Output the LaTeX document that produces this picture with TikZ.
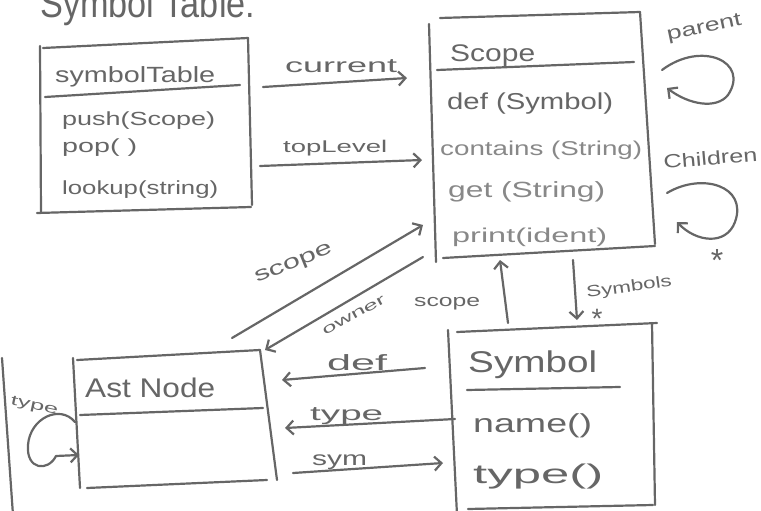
\documentclass[tikz,border=0pt]{standalone}
\usepackage{fontspec}
\setmainfont{Liberation Sans}
\usetikzlibrary{arrows.meta}
\definecolor{ink}{HTML}{666666}
\definecolor{inklight}{HTML}{888888}
% font size shortcut and horizontal fit of a label to a given width
\newcommand{\fs}[1]{\fontsize{#1}{#1}\selectfont}
\newcommand{\hw}[2]{\resizebox{#1}{\height}{#2}}
\tikzset{
  pen/.style={draw=ink, line width=2.2pt, line cap=round, line join=round},
  arr/.style={pen, -{Straight Barb[length=7pt,width=14pt]}},
  lbl/.style={inner sep=0pt, anchor=base west, text=ink},
  lbllight/.style={lbl, text=inklight},
  star/.style={inner sep=0pt, anchor=base, text=ink, font=\fs{32}},
}
\begin{document}
\begin{tikzpicture}[x=1pt,y=-1pt]
\useasboundingbox (0,0) rectangle (761,511);
\clip (0,0) rectangle (761,511);

% ---- heading along the top edge (runs off the sheet)
\node[lbl, font=\fs{40}] (title) at (40,18) {\hw{215pt}{Symbol Table:}};

% ---- class SymbolTable
\draw[pen] (43,48) -- (248,38);
\draw[pen] (40,46) -- (41,213);
\draw[pen] (248,38) -- (252,205);
\draw[pen] (37,213) -- (251,207);
\draw[pen] (45,97) -- (240,85);
\node[lbl, font=\fs{22}] (st-name) at (55,82) {\hw{160pt}{symbolTable}};
\node[lbl, font=\fs{19}] (st-push) at (62,125) {\hw{153pt}{push(Scope)}};
\node[lbl, font=\fs{19}] (st-pop) at (62,153) {\hw{75pt}{pop( )}};
\node[lbl, font=\fs{19}] (st-look) at (62,194) {\hw{156pt}{lookup(string)}};

% ---- class Scope
\draw[pen] (440,18) -- (640,12);
\draw[pen] (429,24) -- (436,262);
\draw[pen] (640,12) -- (655,244);
\draw[pen] (443,258) -- (655,246);
\draw[pen] (437,70) -- (634,62);
\node[lbl, font=\fs{24}] (sc-name) at (450,62) {\hw{85pt}{Scope}};
\node[lbl, font=\fs{23}] (sc-def) at (447,110) {\hw{166pt}{def (Symbol)}};
\node[lbllight, font=\fs{20}] (sc-cont) at (440,155) {\hw{202pt}{contains (String)}};
\node[lbllight, font=\fs{22}] (sc-get) at (448,197) {\hw{157pt}{get (String)}};
\node[lbllight, font=\fs{20}] (sc-print) at (452,242) {\hw{155pt}{print(ident)}};

% ---- class Symbol
\draw[pen] (457,332) -- (657,323);
\draw[pen] (448,330) -- (457,515);
\draw[pen] (652,323) -- (655,505);
\draw[pen] (468,509) -- (653,505);
\draw[pen] (467,390) -- (620,387);
\node[lbl, font=\fs{30}] (sy-name) at (468,372) {\hw{129pt}{Symbol}};
\node[lbl, font=\fs{26}] (sy-nm) at (473,432) {\hw{119pt}{name()}};
\node[lbl, font=\fs{27}] (sy-ty) at (473,483) {\hw{130pt}{type()}};

% ---- class AstNode
\draw[pen] (77,360) -- (260,350);
\draw[pen] (73,358) -- (80,488);
\draw[pen] (260,350) -- (277,480);
\draw[pen] (87,488) -- (267,480);
\draw[pen] (80,415) -- (263,408);
\node[lbl, font=\fs{27}] (an-name) at (85,397) {\hw{130pt}{Ast Node}};

% ---- edge of a further box on the left
\draw[pen] (2,358) -- (13,515);

% ---- associations SymbolTable -> Scope
\coordinate (cur-s) at (263,87);  \coordinate (cur-e) at (407,78);
\coordinate (top-s) at (260,166); \coordinate (top-e) at (422,160);
\draw[arr] (cur-s) -- (cur-e);
\draw[arr] (top-s) -- (top-e);
\node[lbl, font=\fs{20}] (l-cur) at (285,73) {\hw{112pt}{current}};
\node[lbl, font=\fs{17}] (l-top) at (283,152) {\hw{104pt}{topLevel}};

% ---- Scope self associations
\coordinate (par-s) at (662,70);  \coordinate (par-e) at (667,88);
\draw[arr] (par-s) .. controls (702,40) and (750,62) .. (728,95)
               .. controls (716,110) and (688,104) .. (par-e);
\node[lbl, font=\fs{19}, rotate=12] (l-par) at (668,41) {\hw{76pt}{parent}};
\coordinate (ch-s) at (667,193);  \coordinate (ch-e) at (677,222);
\draw[arr] (ch-s) .. controls (702,172) and (748,186) .. (735,222)
               .. controls (726,246) and (696,242) .. (ch-e);
\node[lbl, font=\fs{19}, rotate=5] (l-ch) at (664,169) {\hw{94pt}{Children}};
\node[star] (ch-mul) at (717,271) {*};

% ---- AstNode <-> Scope
\coordinate (asc-s) at (232,338); \coordinate (asc-e) at (423,225);
\draw[arr] (asc-s) -- (asc-e);
\node[lbl, font=\fs{20}, rotate=22] (l-asc) at (257,283) {\hw{82pt}{scope}};
\coordinate (own-s) at (423,257); \coordinate (own-e) at (265,350);
\draw[arr] (own-s) -- (own-e);
\node[lbl, font=\fs{14}, rotate=29] (l-own) at (325,336) {\hw{70pt}{owner}};

% ---- Symbol <-> Scope
\coordinate (sco-s) at (508,323); \coordinate (sco-e) at (500,260);
\draw[arr] (sco-s) -- (sco-e);
\node[lbl, font=\fs{17}] (l-sco) at (414,306) {\hw{66pt}{scope}};
\coordinate (syms-s) at (573,260); \coordinate (syms-e) at (577,320);
\draw[arr] (syms-s) -- (syms-e);
\node[lbl, font=\fs{16}, rotate=8] (l-syms) at (587,298) {\hw{86pt}{Symbols}};
\node[star, font=\fs{28}] (syms-mul) at (597,328) {*};

% ---- Symbol <-> AstNode
\coordinate (def-s) at (425,368); \coordinate (def-e) at (282,380);
\draw[arr] (def-s) -- (def-e);
\node[lbl, font=\fs{22}] (l-def) at (327,370) {\hw{60pt}{def}};
\coordinate (typ-s) at (455,419); \coordinate (typ-e) at (285,428);
\draw[arr] (typ-s) -- (typ-e);
\node[lbl, font=\fs{20}] (l-typ) at (310,420) {\hw{73pt}{type}};
\coordinate (sym-s) at (293,473); \coordinate (sym-e) at (443,463);
\draw[arr] (sym-s) -- (sym-e);
\node[lbl, font=\fs{20}] (l-sym) at (312,465) {\hw{55pt}{sym}};

% ---- AstNode self association
\coordinate (tl-s) at (75,422); \coordinate (tl-e) at (79,455);
\draw[arr] (tl-s) .. controls (60,404) and (30,418) .. (28,445)
              .. controls (26,470) and (48,472) .. (56,456) -- (tl-e);
\node[lbl, font=\fs{14}, rotate=-12] (l-tl) at (10,404) {\hw{48pt}{type}};
\end{tikzpicture}
\end{document}
